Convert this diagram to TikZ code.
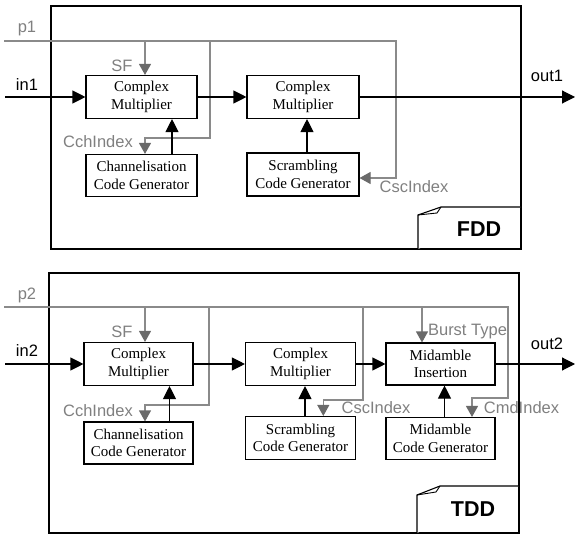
\documentclass[tikz,border=0pt]{standalone}
\usepackage{fontspec}
\setmainfont{Liberation Serif}
\setsansfont{Liberation Sans}
\usetikzlibrary{arrows.meta,calc}
\definecolor{gline}{HTML}{8A8A8A}
\definecolor{gtip}{HTML}{6A6A6A}
\definecolor{gtext}{HTML}{808080}
\begin{document}
\begin{tikzpicture}[x=1pt,y=-1pt,
 blk/.style={draw, line width=1.1pt, fill=white, inner sep=0pt, align=center,
   font=\fontsize{15}{17.5}\selectfont},
 frm/.style={draw, line width=1.4pt},
 notefold/.style={draw, line width=1.1pt, fill=white},
 barr/.style={line width=1.1pt, -{Triangle[length=13pt,width=13pt]}},
 gln/.style={gline, line width=1.1pt},
 garr/.style={gline, line width=1.1pt, -{Triangle[length=11pt,width=12pt,color=gtip]}},
 glab/.style={text=gtext, font=\sffamily\fontsize{16.5}{19}\selectfont, inner sep=0pt, anchor=base},
 blab/.style={font=\sffamily\fontsize{16.5}{19}\selectfont, inner sep=0pt, anchor=base},
 tag/.style={font=\sffamily\bfseries\fontsize{21.5}{24}\selectfont, inner sep=0pt, anchor=base},
 ]
\useasboundingbox (0,0) rectangle (575,534);

% ================= FDD panel =================
\draw[frm] (51,6) rectangle (521,249);
\draw[notefold] (418,249) -- (418,215) -- (441,207) -- (521,207);
\draw[line width=0.9pt] (418,215) -- (437,213) -- (441,207);

\coordinate (P1a) at (4,41);
\coordinate (P1b) at (396,41);
\coordinate (sf1) at (145,41);
\coordinate (cc1) at (210,41);
\coordinate (in1s) at (5,97);
\coordinate (o1) at (575,97);

\node[blk, minimum width=111pt, minimum height=43pt] (A1) at (141.5,97) {Complex\\Multiplier};
\node[blk, minimum width=111pt, minimum height=42pt] (C1) at (141.5,175.5) {Channelisation\\Code Generator};
\node[blk, minimum width=112pt, minimum height=43pt] (B1) at (303,97) {Complex\\Multiplier};
\node[blk, minimum width=112pt, minimum height=43pt] (S1) at (303,174.5) {Scrambling\\Code Generator};

\draw[garr] (P1a) -- (P1b) |- ([yshift=-3.5pt]S1.east);
\draw[garr] (sf1) -- (sf1 |- A1.north);
\draw[garr] (cc1) -- ++(0,97) -| (sf1 |- C1.north);
\draw[barr] ([xshift=30.5pt]C1.north) -- ([xshift=30.5pt]A1.south);
\draw[barr] (in1s) -- (A1.west);
\draw[barr] (A1.east) -- (B1.west);
\draw[barr] ([xshift=4pt]S1.north) -- ([xshift=4pt]B1.south);
\draw[barr] (B1.east) -- (o1);

\node[glab] (lp1) at (27,33) {p1};
\node[blab] (lin1) at (27,90.5) {in1};
\node[glab] (lsf1) at (122,72) {SF};
\node[glab] (lcch1) at (98,148) {CchIndex};
\node[glab] (lcsc1) at (414,193) {CscIndex};
\node[blab] (lout1) at (547,82) {out1};
\node[tag] (lfdd) at (479,237) {FDD};

% ================= TDD panel =================
\draw[frm] (49,273) rectangle (519,533);
\draw[notefold] (417,533) -- (417,495) -- (440,486) -- (519,486);
\draw[line width=0.9pt] (417,495) -- (436,492) -- (440,486);

\coordinate (P2a) at (4,307);
\coordinate (P2b) at (508,307);
\coordinate (sf2) at (145,307);
\coordinate (cc2) at (209,307);
\coordinate (cs2) at (363,307);
\coordinate (bt2) at (422,307);
\coordinate (in2s) at (5,364);
\coordinate (o2) at (575,364);

\node[blk, minimum width=109pt, minimum height=43pt] (A2) at (138.5,364) {Complex\\Multiplier};
\node[blk, minimum width=109pt, minimum height=42pt] (C2) at (138.5,443) {Channelisation\\Code Generator};
\node[blk, minimum width=110pt, minimum height=43pt] (B2) at (300.5,364) {Complex\\Multiplier};
\node[blk, minimum width=110pt, minimum height=43pt] (S2) at (300.5,438) {Scrambling\\Code Generator};
\node[blk, minimum width=109pt, minimum height=42pt] (M2) at (440.5,364) {Midamble\\Insertion};
\node[blk, minimum width=109pt, minimum height=42pt] (G2) at (440.5,438.5) {Midamble\\Code Generator};

\draw[garr] (P2a) -- (P2b) -- ++(0,91) -| ([xshift=31.5pt]G2.north);
\draw[garr] (sf2) -- (sf2 |- A2.north);
\draw[garr] (cc2) -- ++(0,98) -| (sf2 |- C2.north);
\draw[garr] (cs2) -- ++(0,93) -| ([xshift=22.8pt]S2.north);
\draw[garr] (bt2) -- (bt2 |- M2.north);
\draw[barr] ([xshift=31pt]C2.north) -- ([xshift=31pt]A2.south);
\draw[barr] ([xshift=4.5pt]S2.north) -- ([xshift=4.5pt]B2.south);
\draw[barr] ([xshift=4pt]G2.north) -- ([xshift=4pt]M2.south);
\draw[barr] (in2s) -- (A2.west);
\draw[barr] (A2.east) -- (B2.west);
\draw[barr] (B2.east) -- (M2.west);
\draw[barr] (M2.east) -- (o2);

\node[glab] (lp2) at (27,300) {p2};
\node[blab] (lin2) at (27,356) {in2};
\node[glab] (lsf2) at (122,337.7) {SF};
\node[glab] (lcch2) at (98,416.7) {CchIndex};
\node[glab] (lcsc2) at (376,413) {CscIndex};
\node[glab] (lbt2) at (467.5,335) {Burst Type};
\node[glab] (lcmd2) at (521.5,413) {CmdIndex};
\node[blab] (lout2) at (547,349) {out2};
\node[tag] (ltdd) at (473,516.7) {TDD};
\end{tikzpicture}
\end{document}
